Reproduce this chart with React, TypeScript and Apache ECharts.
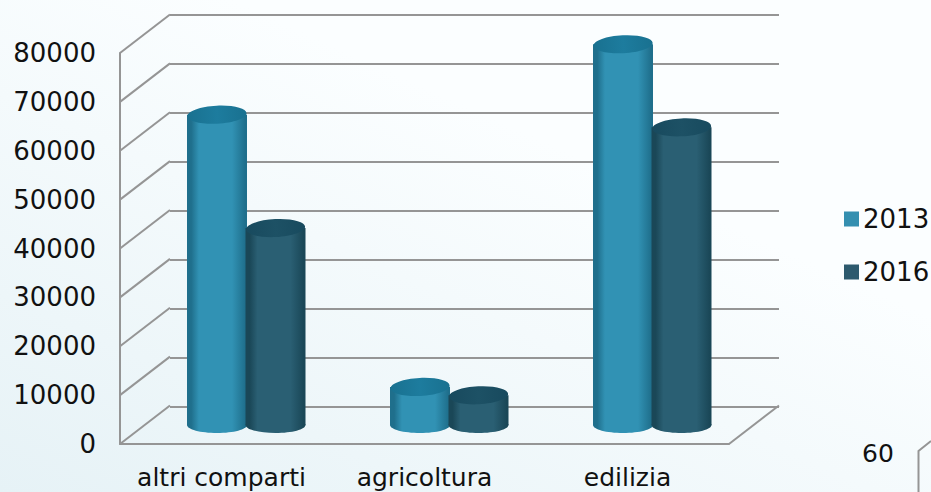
import React, { useEffect, useRef } from "react";
import * as echarts from "echarts";

const categories = ["altri comparti", "agricoltura", "edilizia"];
const seriesNames = ["2013", "2016"];
const values2013 = [63500, 7800, 77900];
const values2016 = [40300, 6100, 60900];
const yTicks = [0, 10000, 20000, 30000, 40000, 50000, 60000, 70000, 80000];
const strayLabel = "60";

const DX = 25;
const DY = -19;
const GRID_COLOR = "#959595";
const FONT = "DejaVu Sans";

function cylinder(edge: string, mid: string, top: string, topLight: string, offset: number) {
  return (params: any, api: any) => {
    const cat = api.value(0);
    const p = api.coord([cat, api.value(1)]);
    const b = api.coord([cat, 0]);
    const cx = p[0] + DX + offset;
    const yTop = p[1] + DY;
    const yBot = b[1] + DY;
    const r = 30;
    const ry = 8;
    const bodyFill = new echarts.graphic.LinearGradient(0, 0, 1, 0, [
      { offset: 0, color: edge },
      { offset: 0.07, color: edge },
      { offset: 0.2, color: mid },
      { offset: 0.75, color: mid },
      { offset: 0.97, color: edge },
      { offset: 1, color: edge },
    ]);
    return {
      type: "group",
      children: [
        { type: "ellipse", shape: { cx, cy: yBot, rx: r, ry }, style: { fill: bodyFill } },
        { type: "rect", shape: { x: cx - r, y: yTop, width: 2 * r, height: yBot - yTop }, style: { fill: bodyFill } },
        {
          type: "ellipse",
          shape: { cx, cy: yTop, rx: r - 0.5, ry: ry + 1 },
          originX: cx,
          originY: yTop,
          rotation: 0.05,
          style: {
            fill: new echarts.graphic.LinearGradient(0, 0, 1, 0, [
              { offset: 0, color: top },
              { offset: 0.5, color: topLight },
              { offset: 1, color: top },
            ]),
          },
        },
      ],
    };
  };
}

function wallLines(params: any, api: any) {
  const v = api.value(0);
  const y = api.coord([0, v])[1];
  const left = params.coordSys.x;
  const right = left + params.coordSys.width;
  const style = { stroke: GRID_COLOR, lineWidth: 2, fill: "none" };
  const children: any[] = [
    { type: "line", shape: { x1: left, y1: y, x2: left + 2 * DX, y2: y + 2 * DY - 0.5 }, style },
  ];
  if (v === 0) {
    children.push({ type: "line", shape: { x1: right, y1: y, x2: right + 2 * DX, y2: y + 2 * DY - 0.5 }, style });
  }
  return { type: "group", children };
}

export default function App() {
  const ref = useRef<HTMLDivElement>(null);
  useEffect(() => {
    document.body.style.margin = "0";
    const chart = echarts.init(ref.current!, null, { renderer: "svg" });
    chart.setOption({
      animation: false,
      backgroundColor: new echarts.graphic.LinearGradient(0, 1, 0.6, 0.3, [
        { offset: 0, color: "#e6f2f6" },
        { offset: 1, color: "#fbfeff" },
      ]),
      legend: {
        orient: "vertical",
        left: 844,
        top: 206,
        padding: 0,
        itemWidth: 15,
        itemHeight: 15,
        itemGap: 27,
        icon: "rect",
        data: seriesNames,
        textStyle: { fontFamily: FONT, fontSize: 26, color: "#111", padding: [0, 0, 0, -1] },
      },
      grid: [
        { left: 120, top: 53, width: 609, height: 391 },
        { left: 170, top: 15, width: 609, height: 392 },
      ],
      xAxis: [
        {
          type: "category",
          gridIndex: 0,
          data: categories,
          axisTick: { show: false },
          axisLine: { lineStyle: { color: GRID_COLOR, width: 2 } },
          axisLabel: { interval: 0, margin: 21, fontFamily: FONT, fontSize: 25, color: "#111" },
        },
        { type: "category", gridIndex: 1, data: categories, show: false },
      ],
      yAxis: [
        {
          type: "value",
          gridIndex: 0,
          min: 0,
          max: 80000,
          interval: 10000,
          axisLine: { show: true, lineStyle: { color: GRID_COLOR, width: 2 } },
          axisTick: { show: false },
          splitLine: { show: false },
          axisLabel: {
            margin: 24,
            fontFamily: FONT,
            fontSize: 26,
            color: "#111",
            formatter: (v: number) => String(v),
          },
        },
        {
          type: "value",
          gridIndex: 1,
          min: 0,
          max: 80000,
          interval: 10000,
          axisLine: { show: false },
          axisTick: { show: false },
          axisLabel: { show: false },
          splitLine: { show: true, lineStyle: { color: GRID_COLOR, width: 2 } },
        },
      ],
      series: [
        {
          type: "custom",
          name: "walls",
          xAxisIndex: 0,
          yAxisIndex: 0,
          clip: false,
          silent: true,
          data: yTicks.map((v) => [v]),
          encode: { y: 0 },
          renderItem: wallLines,
        },
        {
          type: "custom",
          name: seriesNames[0],
          xAxisIndex: 0,
          yAxisIndex: 0,
          clip: false,
          itemStyle: { color: "#348fb0" },
          data: values2013.map((v, i) => [i, v]),
          encode: { x: 0, y: 1 },
          renderItem: cylinder("#1f6f8c", "#3192b4", "#197190", "#1d7c9e", -29.5),
        },
        {
          type: "custom",
          name: seriesNames[1],
          xAxisIndex: 0,
          yAxisIndex: 0,
          clip: false,
          itemStyle: { color: "#2d5a6e" },
          data: values2016.map((v, i) => [i, v]),
          encode: { x: 0, y: 1 },
          renderItem: cylinder("#1a4757", "#2a5f73", "#184a5e", "#1d5165", 29),
        },
      ],
      graphic: [
        {
          type: "text",
          left: 862,
          top: 441,
          style: { text: strayLabel, font: `25px "${FONT}"`, fill: "#111" },
        },
        {
          type: "polyline",
          shape: { points: [[918.5, 492], [918.5, 451], [931, 441]] },
          style: { stroke: GRID_COLOR, lineWidth: 2, fill: "none" },
        },
      ],
    });
    return () => chart.dispose();
  }, []);
  return <div ref={ref} style={{ width: 931, height: 492 }} />;
}
